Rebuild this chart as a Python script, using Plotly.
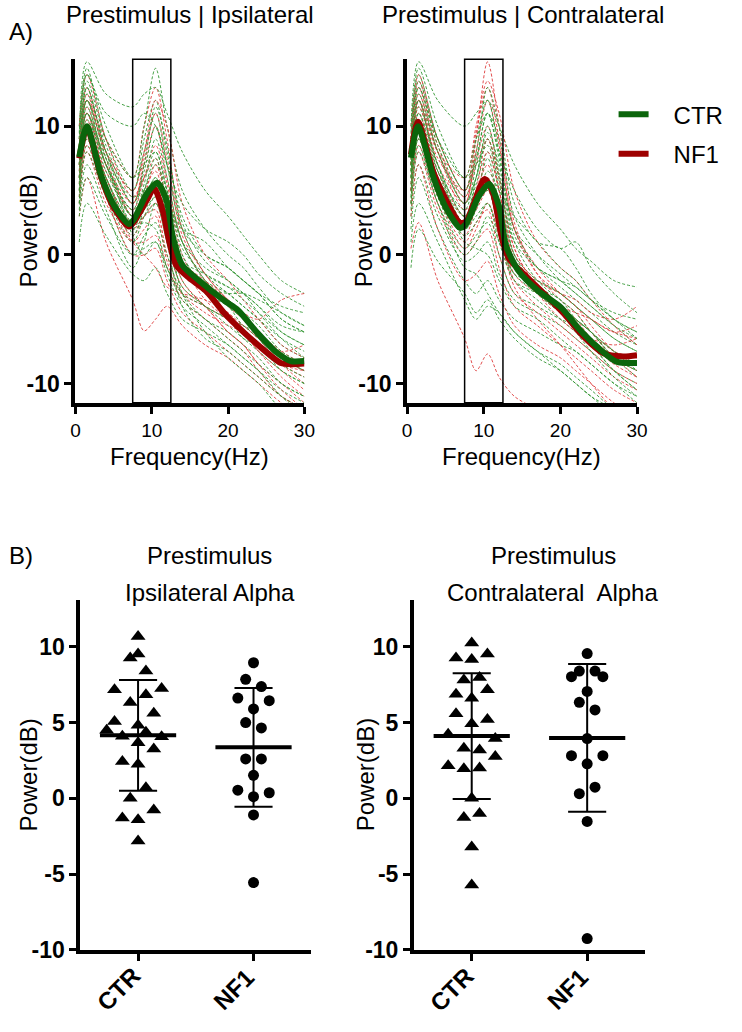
import numpy as np
import plotly.graph_objects as go

# ---------------- DATA ----------------
FREQ = [0.5, 1.5, 4, 7.5, 9, 10.5, 12, 14, 17, 20, 22, 24, 27, 30]

CTR_IPSI = [
    [10, 14.5, 9, 5, 8, 11, 7, 2, 0, -1, -2, -3, -5, -6],
    [8, 13, 8, 4, 6, 8, 5, 1, -1, -2, -3, -4, -6, -7],
    [6, 11, 7, 3, 5, 7, 5, 1, -2, -3, -4, -5, -7, -8],
    [9, 15, 12.5, 11.5, 12.5, 13, 11, 8, 5, 3, 1.5, 0, -2, -3],
    [5, 10, 6, 2, 4, 6, 3, -1, -3, -4, -5.5, -6, -8, -9],
    [4, 8, 4.5, 1, 3, 4.5, 2, -2, -4, -5, -6.5, -7, -9, -10],
    [7, 12, 8, 5, 9, 12, 8, 3, 0, -1, -2, -3, -5, -6],
    [3, 6, 3, 0, 1.5, 2.5, 0, -3, -5, -6, -7, -8, -10, -11],
    [6, 11.5, 7, 2.5, 3, 4, 1, -2.5, -4, -5.5, -6.5, -7.5, -9, -10],
    [8.5, 13.5, 9, 6, 10, 14.5, 10, 5, 2, 0, -1, -2.5, -4.5, -5.5],
    [4, 8.5, 4.5, 0, 0.5, 1, -1.5, -4, -5.5, -7, -8, -9, -10.5, -11.5],
    [7, 12.5, 8.5, 4, 6.5, 10, 7, 2, -1.5, -3, -4, -5, -6.5, -7.5],
    [1, 4, 1.5, -1.5, -2, -1, -3, -5, -6, -7, -8, -9, -11, -12.5],
    [9, 14, 10, 6, 7, 8, 5, 0.5, -1.5, -2.5, -3, -4, -5.5, -6],
    [6.5, 11, 6.5, 3, 5.5, 9, 6, 1, -2, -4, -5, -6.5, -8.5, -9.5],
    [4.5, 10, 6, 2, 2.5, 2, -1, -3.5, -5, -6.5, -7.5, -8.5, -10, -11],
    [8, 12, 7, 3.5, 4.5, 6, 2.5, -1, -2.5, -3.5, -4.5, -5.5, -7.5, -8.5],
    [5.5, 10.5, 7, 3.5, 7, 11.5, 8.5, 2.5, -0.5, -2, -3, -4.5, -6.5, -8],
    [7.5, 12, 7.5, 1.5, 0, 1, -1, -3, -4, -5, -5.5, -6.5, -8, -9],
    [6, 10, 6, 2.5, 5, 7.5, 4, 0, -2.5, -3, -3, -3.5, -4.5, -5.5],
    [9.5, 14, 11, 10, 11, 10, 7, 4, 2, 1, 0, -1.5, -3, -4],
    [3.5, 7, 3.5, -1, 1, 4, 2, -3, -6, -8, -9, -10, -12, -13],
    [7, 11, 7.5, 4.5, 5, 5.5, 4, 2, 1, -1, -2, -3, -4, -4.5],
    [5, 9, 5, 1.5, 3.5, 5, 1, -4, -6.5, -7.5, -8.5, -9.5, -11, -12],
    [8, 13, 8, 3, 3.5, 4.5, 2, -0.5, -1.5, -2.5, -3.5, -4.5, -6, -7],
]

NF1_IPSI = [
    [9, 13, 8, 4, 7, 10, 6, 1, -2, -4, -5, -6.5, -8.5, -10],
    [7, 11.5, 7, 3, 5, 6.5, 3, -1, -3, -5, -6, -7.5, -9, -10.5],
    [5, 9, 5, 1.5, 3, 4, 1, -2.5, -4, -6, -7, -8.5, -10, -11.5],
    [8, 12, 9, 6, 10, 13, 9, 2, -1.5, -3.5, -4.5, -6, -8, -9],
    [4, 8, 4, 1, 2, 3, -0.5, -3.5, -5, -6.5, -7.5, -9, -11, -12],
    [6, 10, 6.5, 3.5, 6, 8.5, 5.5, 0, -3, -4.5, -5.5, -6.5, -8, -9],
    [3, 6, 1, -3.5, -5.9, -5, -4, -5.5, -7, -8, -9, -10, -11.5, -12.5],
    [7.5, 11, 6, 2, 3, 3.5, 0, -3, -4.5, -5.5, -6, -7, -8.5, -9.5],
    [5.5, 10, 6, 2.5, 4.5, 7, 4, -0.5, -3.5, -5, -6, -7, -8.5, -9],
    [10, 14, 9, 4.5, 6, 7.5, 4, -0.5, -2, -3.5, -4.5, -5, -3.5, -3],
    [6, 9.5, 5, 1, 1, 1.5, -1, -3, -4, -5, -5.5, -6.5, -7.5, -7],
    [8, 12.5, 7.5, 3, 4, 5.5, 2, -2, -4, -6, -7, -8.5, -10.5, -12],
    [4.5, 8.5, 4.5, 0, 0, 0.5, -2, -4.5, -6, -7.5, -8.5, -9.5, -11, -12],
    [7, 11, 7, 4, 7.5, 11, 7.5, 1.5, -1.5, -3.5, -4.5, -6, -7.5, -8.5],
    [8.5, 12, 8, 5, 8, 12, 10, 4, 0, -2, -3.5, -5, -7, -8],
    [6.5, 10.5, 5.5, 1, 0, -1, -2.5, -3, -3.5, -4.5, -6, -7.5, -9.5, -11],
]

CTR_CONTRA = [
    [9, 14, 9, 5, 9, 12, 8, 2, 0, -1.5, -2.5, -3.5, -5, -6],
    [7, 12, 7, 3, 5.5, 8, 5, 0, -2, -3, -4, -5, -6.5, -7.5],
    [5, 10, 6, 3, 6, 9.5, 7, 1.5, -1, -2.5, -3.5, -4.5, -6, -7],
    [10, 15, 12, 10, 11, 12, 10, 7, 4, 2, 0.5, -0.5, -2, -2.5],
    [-1, 2, -0.5, -3, -4.5, -3.5, -5, -6.5, -8, -9, -10, -11, -12, -13],
    [3, 7, 3, -0.5, 0, 1, -1.5, -3.5, -4.5, -5.5, -6.5, -7.5, -9, -10],
    [8, 13, 8.5, 4.5, 7.5, 11, 7.5, 2, -1, -2, -3, -4, -5.5, -7],
    [4, 9, 5, 2, 3, 4, 1.5, -2, -3.5, -5, -6, -7, -9, -10.5],
    [6, 11.5, 7, 2, 3.5, 6, 3, -1, -2.5, -3.5, -5, -6, -8, -9.5],
    [8.5, 13.5, 9, 5, 8, 13, 10, 4, 1, 0.5, -1, -3, -5, -6],
    [2, 6, 2, -2, -3, -2, -3.5, -5, -6, -7, -7.5, -8.5, -10, -11],
    [7, 12, 8, 4, 6, 10, 6.5, 1, -2, -3.5, -4.5, -6, -7.5, -9],
    [5, 9, 4.5, 0.5, 1.5, 2.5, 0, -3, -4, -5, -5.5, -6.5, -8, -9],
    [9.5, 14.5, 10, 6, 7, 8.5, 5.5, 1, -1, -2, -2.5, -3.5, -4.5, -5],
    [6.5, 11, 6, 2.5, 4.5, 7.5, 4, -0.5, -3, -4.5, -5.5, -7, -9, -10.5],
    [4.5, 10, 6, 1, 0.5, 0, -2, -4, -5, -6.5, -7.5, -8.5, -10, -11.5],
    [7.5, 12, 6.5, 2.5, 4, 5, 2, -1.5, -2, -3, -4, -5, -6.5, -7.5],
    [5.5, 10.5, 6.5, 3.5, 7, 11, 9, 3, 0, -2, -3, -4, -5.5, -6.5],
    [1, 4, 1, -3.5, -5, -4, -4.5, -6, -7.5, -8.5, -9.5, -10.5, -12, -13],
    [6, 10, 5.5, 1.5, 2.5, 4, 1, -2, -3, -4, -5, -6, -7.5, -8.5],
    [8, 13, 9, 6, 9, 11, 8, 5, 2, 0.5, 1, -1, -3, -4.5],
    [3.5, 8, 4, 0, 1, 3, 1, -1.5, -3, -4.5, -6, -7.5, -9.5, -11],
    [6.5, 11, 7, 3, 4, 6.5, 5, 3, 1, -1, -2, -3.5, -5, -6.5],
    [4, 8.5, 4, -1, -1.5, -3, -4.5, -6, -7.5, -9, -10, -11, -12.5, -13.5],
    [7, 12.5, 8, 4, 6, 9, 6, 0, -2.5, -4, -5, -6, -8, -9],
]

NF1_CONTRA = [
    [9, 13.5, 8.5, 4, 8, 12, 8.5, 2, -1, -3, -4, -5.5, -7.5, -8.5],
    [8, 12, 7, 4, 9, 15, 10, 2.5, -1.5, -3.5, -4.5, -6, -8, -9],
    [6, 10, 5.5, 2, 5, 9, 6, 0.5, -2.5, -4, -5, -6.5, -8, -9.5],
    [10, 14, 9, 5, 7.5, 10, 6, 0.5, -2.5, -4, -5, -6, -7.5, -8],
    [0.5, 2.5, -2, -6.5, -9, -7.7, -9.5, -11, -12, -13, -13.5, -14, -15, -15],
    [7, 11, 6.5, 3, 5, 7, 3.5, -1, -3, -4.5, -5.5, -6.5, -7, -6.5],
    [5, 9, 4.5, 1, 2.5, 3.5, 0, -3, -4.5, -6, -7, -8, -9.5, -10.5],
    [8, 12.5, 8, 4.5, 7, 9, 5, 0, -2, -3, -3.5, -4.5, -5, -4],
    [4, 8, 3.5, 0, 1, 2, -1, -4, -5.5, -7, -8, -9, -10.5, -11.5],
    [7.5, 11.5, 7.5, 5, 9.5, 13, 9, 2, -1.5, -3, -4, -5, -6, -6.5],
    [6.5, 10.5, 6, 2.5, 3.5, 5, 2, -2, -4, -5.5, -6.5, -7.5, -9, -10],
    [9, 13, 8, 3.5, 4.5, 6, 2.5, -1.5, -3, -4, -4.5, -5, -6, -5.5],
    [5.5, 9.5, 5, 1.5, 4, 8, 5, -0.5, -3, -5, -6, -7, -8.5, -9.5],
    [3, 7, 2, -2, -1.5, -0.5, -3, -5.5, -7, -8, -9, -10, -11.5, -12.5],
    [7, 12, 8, 6, 10, 13.5, 11, 5, 1, -1, -2, -3.5, -5.5, -7],
    [5, 8.5, 4, 0.5, 2, 4, 1.5, -2.5, -5, -7, -8.5, -10, -12, -13],
]

# group-average spectra
MEAN_CTR_IPSI_F = [0.5, 1.5, 3.4, 5.1, 7.0, 7.6, 9.4, 10.7, 11.9, 12.8, 14.0, 16.2, 19.6, 21.3, 23.9, 26.4, 28.2, 30]
MEAN_CTR_IPSI = [7.6, 10.0, 6.1, 3.8, 2.4, 2.7, 4.8, 5.6, 4.3, 1.3, -0.8, -2.0, -3.6, -4.3, -6.1, -7.6, -8.25, -8.25]
MEAN_NF1_IPSI_F = [0.5, 1.5, 3.4, 5.1, 7.0, 7.6, 9.4, 10.3, 11.5, 12.3, 13.2, 14.9, 17.1, 19.6, 22.2, 24.7, 26.9, 28.5, 30]
MEAN_NF1_IPSI = [7.5, 9.9, 6.0, 3.6, 2.2, 2.5, 4.3, 5.2, 3.3, 1.0, -0.8, -1.8, -2.8, -4.6, -6.1, -7.4, -8.4, -8.5, -8.45]
MEAN_CTR_CONTRA_F = [0.5, 1.4, 3.5, 5.2, 6.9, 7.7, 9.3, 10.7, 12.0, 12.9, 14.6, 17.1, 20.1, 22.2, 24.8, 27.3, 30]
MEAN_CTR_CONTRA = [7.55, 10.0, 5.9, 3.5, 2.1, 2.4, 4.5, 5.5, 3.75, 0.7, -1.3, -2.8, -4.1, -5.6, -7.15, -8.3, -8.4]
MEAN_NF1_CONTRA_F = [0.5, 1.4, 3.5, 6.9, 7.7, 10.1, 11.2, 12.4, 13.3, 15.4, 18.0, 20.5, 23.1, 25.6, 28.2, 30]
MEAN_NF1_CONTRA = [7.8, 10.35, 6.3, 2.5, 2.6, 5.9, 4.8, 1.2, -0.3, -1.6, -3.1, -4.6, -6.4, -7.65, -7.9, -7.8]

ALPHA_BAND = [7.5, 12.5]
FREQ_TICKS = [0, 10, 20, 30]

# alpha power per subject
GROUPS = ["CTR", "NF1"]
CTR_IPSI_ALPHA = [10.68, 9.27, 9.53, 8.4, 7.17, 7.25, 6.84, 6.32, 5.62, 5.08, 4.82, 4.5, 4.36,
                  4.1, 4.06, 3.67, 3.26, 2.43, 2.26, 0.7, 0.0, -0.76, -1.3, -1.41, -2.82]
NF1_IPSI_ALPHA = [8.95, 7.86, 7.38, 6.62, 6.45, 5.9, 5.0, 4.65, 2.6, 2.6, 1.52, 0.54, 0.11, 0.37, -1.09, -5.56]
CTR_CONTRA_ALPHA = [10.25, 9.27, 9.17, 9.53, 7.82, 7.97, 6.88, 7.17, 6.6, 5.58, 5.21, 4.93, 4.23,
                    3.95, 3.3, 3.19, 2.76, 2.15, 1.95, 2.0, 0.0, -1.26, -1.0, -3.21, -5.71]
NF1_CONTRA_ALPHA = [9.56, 8.4, 8.03, 8.4, 8.03, 7.06, 6.34, 5.84, 3.95, 2.82, 2.82, 2.28, 0.74, 0.31, -1.52, -9.25]

# horizontal scatter slots (layout of the dot plot)
CTR_IPSI_SLOT = [0, -1, 0, 1, -3, 3, 1, -1, 2, -3, 0, -4, 1, -2, 3, 0, 2, -2, 0, 1, -1, 2, -2, 0, 0]
NF1_IPSI_SLOT = [0, -1, 1, -2, 2, 0, -1, 1, -1, 1, 0, -2, 0, 2, 0, 0]
CTR_CONTRA_SLOT = [0, -2, 0, 2, -1, 1, -2, 2, 0, -2, 2, 0, -3, 3, -1, 1, 3, -3, -1, 1, 0, -1, 1, 0, 0]
NF1_CONTRA_SLOT = [0, -1, -2, 1, 2, 0, -1, 1, 0, -2, 2, 0, 1, -1, 0, 0]

# ---------------- STYLE ----------------
W, H = 742, 1032
FONT = "Arial, Liberation Sans, sans-serif"
GREEN = "#0b650b"
RED = "#9e0000"
GREEN_THIN = "rgba(50,150,50,0.9)"
RED_THIN = "rgba(222,60,60,0.9)"
SLOT_W = 0.068
MEAN_HW = 0.33
CAP_HW = 0.165


def fx(p):
    return p / W


def fy(p):
    return 1 - p / H


fig = go.Figure()

# top panels
top_panels = [
    ("x", "y", CTR_IPSI, NF1_IPSI, (MEAN_CTR_IPSI_F, MEAN_CTR_IPSI), (MEAN_NF1_IPSI_F, MEAN_NF1_IPSI), False),
    ("x2", "y2", CTR_CONTRA, NF1_CONTRA, (MEAN_CTR_CONTRA_F, MEAN_CTR_CONTRA), (MEAN_NF1_CONTRA_F, MEAN_NF1_CONTRA), True),
]
for xa, ya, ctr, nf1, mc, mn, leg in top_panels:
    n = max(len(ctr), len(nf1))
    for i in range(n):
        if i < len(nf1):
            fig.add_trace(go.Scatter(x=FREQ, y=nf1[i], mode="lines", xaxis=xa, yaxis=ya,
                                     line=dict(color=RED_THIN, width=1, dash="3px,2px", shape="spline", smoothing=0.9),
                                     showlegend=False, hoverinfo="skip"))
        if i < len(ctr):
            fig.add_trace(go.Scatter(x=FREQ, y=ctr[i], mode="lines", xaxis=xa, yaxis=ya,
                                     line=dict(color=GREEN_THIN, width=1, dash="3px,2px", shape="spline", smoothing=0.9),
                                     showlegend=False, hoverinfo="skip"))
    fig.add_trace(go.Scatter(x=mn[0], y=mn[1], mode="lines", xaxis=xa, yaxis=ya, name="\u00a0\u00a0\u00a0NF1",
                             line=dict(color=RED, width=6, shape="spline", smoothing=0.7),
                             showlegend=leg, legend="legend2", hoverinfo="skip"))
    fig.add_trace(go.Scatter(x=mc[0], y=mc[1], mode="lines", xaxis=xa, yaxis=ya, name="\u00a0\u00a0\u00a0CTR",
                             line=dict(color=GREEN, width=6, shape="spline", smoothing=0.7),
                             showlegend=leg, legend="legend", hoverinfo="skip"))
    fig.add_shape(type="rect", xref=xa, yref=ya + " domain", x0=ALPHA_BAND[0], x1=ALPHA_BAND[1], y0=0, y1=1,
                  line=dict(color="black", width=1.5), fillcolor="rgba(0,0,0,0)")

# bottom panels
bottom_panels = [
    ("x3", "y3", CTR_IPSI_ALPHA, CTR_IPSI_SLOT, NF1_IPSI_ALPHA, NF1_IPSI_SLOT),
    ("x4", "y4", CTR_CONTRA_ALPHA, CTR_CONTRA_SLOT, NF1_CONTRA_ALPHA, NF1_CONTRA_SLOT),
]
for xa, ya, cv, cs, nv, ns in bottom_panels:
    for gi, (vals, slots, sym, size) in enumerate([(cv, cs, "triangle-up", 13), (nv, ns, "circle", 11)]):
        xs = [gi + s * SLOT_W for s in slots]
        fig.add_trace(go.Scatter(x=xs, y=vals, mode="markers", xaxis=xa, yaxis=ya,
                                 marker=dict(symbol=sym, size=size, color="black", line=dict(width=0)),
                                 showlegend=False, hoverinfo="skip"))
        m = float(np.mean(vals))
        sd = float(np.std(vals, ddof=1))
        fig.add_trace(go.Scatter(x=[gi, gi], y=[m - sd, m + sd], mode="lines", xaxis=xa, yaxis=ya,
                                 line=dict(color="black", width=2), showlegend=False, hoverinfo="skip"))
        for v in (m - sd, m + sd):
            fig.add_trace(go.Scatter(x=[gi - CAP_HW, gi + CAP_HW], y=[v, v], mode="lines", xaxis=xa, yaxis=ya,
                                     line=dict(color="black", width=2), showlegend=False, hoverinfo="skip"))
        fig.add_trace(go.Scatter(x=[gi - MEAN_HW, gi + MEAN_HW], y=[m, m], mode="lines", xaxis=xa, yaxis=ya,
                                 line=dict(color="black", width=4), showlegend=False, hoverinfo="skip"))
        # rotated group label under its tick
        fig.add_annotation(text=GROUPS[gi], xref=xa, x=gi, yref="paper", y=fy(1002), xshift=-20,
                           showarrow=False, textangle=-45, xanchor="center", yanchor="middle",
                           font=dict(family=FONT, size=24, color="black", weight="bold"))

tick_bold = dict(family=FONT, size=23, color="black", weight="bold")
axis_common = dict(showline=True, linewidth=4, linecolor="black", ticks="outside", ticklen=7,
                   tickwidth=3, tickcolor="black", showgrid=False, zeroline=False, fixedrange=True)

top_y = [fy(408), fy(60)]
bot_y = [fy(962), fy(608)]
freq_font = dict(family=FONT, size=19, color="black")

fig.update_layout(
    width=W, height=H, margin=dict(l=0, r=0, t=0, b=0),
    paper_bgcolor="white", plot_bgcolor="white",
    font=dict(family=FONT, color="black"),
    xaxis=dict(domain=[fx(72), fx(306)], range=[0, 30], anchor="y", tickvals=FREQ_TICKS,
               tickfont=freq_font, **axis_common),
    yaxis=dict(domain=top_y, range=[-11.5, 15.2], anchor="x", tickvals=[-10, 0, 10], ticktext=["-10", "0", "10"],
               tickfont=tick_bold, **axis_common),
    xaxis2=dict(domain=[fx(411), fx(646)], range=[0, 30], anchor="y2", tickvals=FREQ_TICKS,
                tickfont=freq_font, **axis_common),
    yaxis2=dict(domain=top_y, range=[-11.5, 15.2], anchor="x2", tickvals=[-10, 0, 10], ticktext=["-10", "0", "10"],
                tickfont=tick_bold, **axis_common),
    xaxis3=dict(domain=[fx(77), fx(313)], range=[-0.5, 1.5], anchor="y3", tickvals=[0, 1], ticktext=["", ""],
                **axis_common),
    yaxis3=dict(domain=bot_y, range=[-10, 13.07], anchor="x3", tickvals=[-10, -5, 0, 5, 10],
                ticktext=["-10", "-5", "0", "5", "10"], tickfont=tick_bold, **axis_common),
    xaxis4=dict(domain=[fx(418), fx(654)], range=[-0.5, 1.5], anchor="y4", tickvals=[0, 1], ticktext=["", ""],
                **axis_common),
    yaxis4=dict(domain=bot_y, range=[-10, 13.07], anchor="x4", tickvals=[-10, -5, 0, 5, 10],
                ticktext=["-10", "-5", "0", "5", "10"], tickfont=tick_bold, **axis_common),
    legend=dict(x=fx(622), y=fy(116), xanchor="left", yanchor="middle", bgcolor="rgba(0,0,0,0)",
                font=dict(family=FONT, size=24, color="black")),
    legend2=dict(x=fx(622), y=fy(156), xanchor="left", yanchor="middle", bgcolor="rgba(0,0,0,0)",
                 font=dict(family=FONT, size=24, color="black")),
)

texts = [
    ("Prestimulus | Ipsilateral", 189, 15, 0),
    ("Prestimulus | Contralateral", 529, 15, 0),
    ("A)", 16, 32, 0),
    ("B)", 16, 563, 0),
    ("Frequency(Hz)", 189, 462, 0),
    ("Frequency(Hz)", 528, 462, 0),
    ("Prestimulus", 209, 563, 0),
    ("Ipsilateral Alpha", 210, 600, 0),
    ("Prestimulus", 561, 563, 0),
    ("Contralateral\u00a0 Alpha", 560, 600, 0),
    ("Power(dB)", 24, 234, -90),
    ("Power(dB)", 366, 234, -90),
    ("Power(dB)", 24, 785, -90),
    ("Power(dB)", 368, 785, -90),
]
for t, x, y, ang in texts:
    fig.add_annotation(text=t, x=fx(x), y=fy(y), xref="paper", yref="paper", showarrow=False,
                       xanchor="center", yanchor="middle", textangle=ang,
                       font=dict(family=FONT, size=24, color="black"))

fig.write_html("out.html", config={"displayModeBar": False, "staticPlot": True},
               post_script="document.body.style.margin='0px';")
